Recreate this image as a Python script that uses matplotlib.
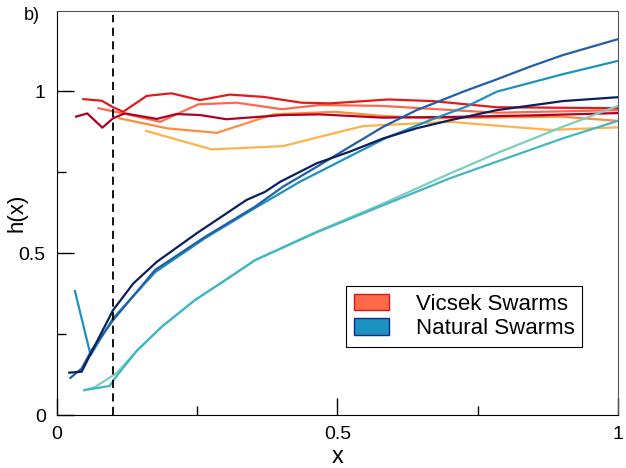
import matplotlib
matplotlib.use("Agg")
import matplotlib.pyplot as plt
from matplotlib.patches import Patch

plt.rcParams['font.family'] = ['Liberation Sans', 'DejaVu Sans']

# Vicsek swarms (reds)
vic_dark_x = [0.034, 0.054, 0.081, 0.100, 0.121, 0.178, 0.213, 0.255, 0.302, 0.403, 0.469, 0.58, 0.70, 0.85, 1.0]
vic_dark_y = [0.921, 0.931, 0.887, 0.916, 0.931, 0.914, 0.929, 0.926, 0.913, 0.926, 0.928, 0.918, 0.920, 0.925, 0.932]

vic_red_x = [0.047, 0.080, 0.100, 0.118, 0.160, 0.204, 0.255, 0.308, 0.368, 0.436, 0.487, 0.591, 0.670, 0.784, 1.0]
vic_red_y = [0.975, 0.970, 0.950, 0.936, 0.985, 0.993, 0.972, 0.989, 0.982, 0.964, 0.962, 0.974, 0.969, 0.950, 0.947]

vic_salmon_x = [0.074, 0.118, 0.184, 0.252, 0.320, 0.401, 0.469, 0.581, 0.784, 1.0]
vic_salmon_y = [0.947, 0.931, 0.905, 0.959, 0.964, 0.944, 0.957, 0.954, 0.933, 0.941]

vic_orange_x = [0.111, 0.196, 0.285, 0.386, 0.469, 0.496, 0.581, 0.670, 0.897, 1.0]
vic_orange_y = [0.916, 0.885, 0.871, 0.928, 0.934, 0.936, 0.923, 0.916, 0.921, 0.908]

vic_light_x = [0.159, 0.276, 0.403, 0.469, 0.546, 0.700, 0.879, 1.0]
vic_light_y = [0.877, 0.820, 0.830, 0.859, 0.892, 0.905, 0.880, 0.888]

# Natural swarms (blues)
nat_navy_x = [0.022, 0.044, 0.065, 0.100, 0.136, 0.178, 0.249, 0.338, 0.371, 0.398, 0.463, 0.522, 0.582, 0.641, 0.701, 0.784, 0.902, 1.0]
nat_navy_y = [0.131, 0.134, 0.206, 0.324, 0.406, 0.473, 0.561, 0.664, 0.689, 0.720, 0.777, 0.813, 0.854, 0.885, 0.910, 0.941, 0.969, 0.981]

nat_mid_x = [0.024, 0.044, 0.062, 0.100, 0.175, 0.264, 0.353, 0.403, 0.463, 0.522, 0.582, 0.641, 0.701, 0.724, 0.784, 0.843, 0.902, 1.0]
nat_mid_y = [0.115, 0.144, 0.201, 0.293, 0.448, 0.550, 0.643, 0.705, 0.766, 0.828, 0.890, 0.941, 0.982, 0.998, 1.036, 1.075, 1.111, 1.160]

nat_light_x = [0.032, 0.060, 0.100, 0.175, 0.264, 0.353, 0.433, 0.585, 0.665, 0.730, 0.784, 0.902, 1.0]
nat_light_y = [0.383, 0.185, 0.299, 0.441, 0.546, 0.639, 0.720, 0.854, 0.910, 0.952, 0.998, 1.052, 1.093]

nat_teal_x = [0.049, 0.094, 0.103, 0.142, 0.187, 0.246, 0.305, 0.353, 0.463, 0.582, 0.701, 0.784, 0.902, 1.0]
nat_teal_y = [0.077, 0.090, 0.113, 0.198, 0.273, 0.355, 0.422, 0.478, 0.564, 0.648, 0.731, 0.782, 0.854, 0.908]

nat_green_x = [0.049, 0.068, 0.106, 0.142, 0.187, 0.246, 0.305, 0.353, 0.463, 0.582, 0.701, 0.784, 0.902, 1.0]
nat_green_y = [0.077, 0.087, 0.129, 0.198, 0.273, 0.355, 0.422, 0.478, 0.566, 0.653, 0.746, 0.808, 0.890, 0.954]

fig = plt.figure(figsize=(6.26, 4.68), dpi=100)
ax = fig.add_axes([0.091, 0.113, 0.896, 0.8635])

lw = 1.6
ax.plot(vic_light_x, vic_light_y, color='#feb24c', lw=lw)
ax.plot(vic_orange_x, vic_orange_y, color='#fd8d3c', lw=lw)
ax.plot(vic_salmon_x, vic_salmon_y, color='#fc6a4a', lw=lw)
ax.plot(vic_dark_x, vic_dark_y, color='#b10026', lw=lw)
ax.plot(vic_red_x, vic_red_y, color='#e31a1c', lw=lw)

ax.plot(nat_green_x, nat_green_y, color='#7fcdbb', lw=lw)
ax.plot(nat_teal_x, nat_teal_y, color='#41b6c4', lw=lw)
ax.plot(nat_light_x, nat_light_y, color='#1d91c0', lw=lw)
ax.plot(nat_mid_x, nat_mid_y, color='#225ea8', lw=lw)
ax.plot(nat_navy_x, nat_navy_y, color='#0c1f5c', lw=lw)

ax.axvline(0.1, ymax=0.99, color='black', lw=1.3, ls=(0, (4.5, 3)))

ax.set_xlim(0, 1)
ax.set_ylim(0, 1.247)
ax.set_xticks([0, 0.5, 1])
ax.set_xticklabels(['0', '0.5', '1'])
ax.set_xticks([0.25, 0.75], minor=True)
ax.set_yticks([0, 0.5, 1])
ax.set_yticklabels(['0', '0.5', '1'])
ax.set_yticks([0.25, 0.75], minor=True)
ax.tick_params(which='both', direction='in', labelsize=14, width=1, pad=8)
ax.tick_params(which='major', length=12)
ax.tick_params(which='minor', length=6.5)
ax.spines['top'].set_color('#555555')
ax.spines['right'].set_color('#555555')

ax.set_xlabel('x', fontsize=17, labelpad=2)
ax.set_ylabel('h(x)', fontsize=16)
ax.yaxis.set_label_coords(-0.052, 0.5)

fig.text(0.05, 0.966, 'b)', fontsize=13, ha='center', va='center')

handles = [Patch(facecolor='#fc6a4a', edgecolor='#d7191c', label='Vicsek Swarms'),
           Patch(facecolor='#1d91c0', edgecolor='#0c2c84', label='Natural Swarms')]
leg = ax.legend(handles=handles, loc='upper left', bbox_to_anchor=(0.515, 0.319),
                borderaxespad=0, fontsize=16, fancybox=False, framealpha=1,
                edgecolor='black', handlelength=1.6, handleheight=0.75,
                handletextpad=1.2, labelspacing=0.15, borderpad=0.35)
leg.get_frame().set_linewidth(0.8)

fig.savefig('out.png', dpi=100)
